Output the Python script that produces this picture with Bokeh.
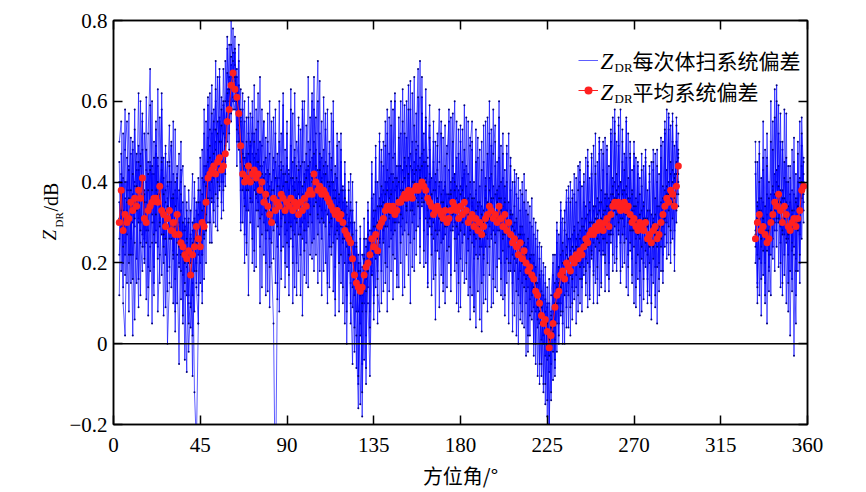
import math
from bokeh.plotting import figure
from bokeh.layouts import row
from bokeh.models import (FixedTicker, LinearAxis, Span, Label, Legend, LegendItem, Range1d)
from bokeh.embed import file_html
from bokeh.resources import INLINE

# ---------------- data ----------------
# azimuth grid (deg) of the two observed sectors
az_a = list(range(3, 294))
az_b = list(range(333, 359))

# mean systematic bias (red)
mean_a = [
    0.30, 0.38, 0.28, 0.32, 0.30, 0.31, 0.35,
    0.33, 0.36, 0.34, 0.38, 0.36, 0.41, 0.31, 0.30, 0.33, 0.34,
    0.35, 0.36, 0.36, 0.35, 0.39, 0.33, 0.32, 0.29, 0.31, 0.33,
    0.28, 0.30, 0.27, 0.32, 0.27, 0.25, 0.24, 0.22, 0.21, 0.23,
    0.17, 0.22, 0.24, 0.29, 0.26, 0.24, 0.30, 0.29, 0.35, 0.41,
    0.42, 0.43, 0.44, 0.42, 0.45, 0.46, 0.43, 0.44, 0.47, 0.55,
    0.58, 0.64, 0.67, 0.63, 0.61, 0.57, 0.49, 0.42, 0.40, 0.41,
    0.44, 0.40, 0.42, 0.43, 0.41, 0.42, 0.38, 0.40, 0.35, 0.37,
    0.34, 0.32, 0.30, 0.36, 0.33, 0.35, 0.34, 0.37, 0.36, 0.33,
    0.35, 0.34, 0.36, 0.33, 0.35, 0.34, 0.32, 0.35, 0.33, 0.36,
    0.34, 0.37, 0.38, 0.37, 0.42, 0.40, 0.38, 0.39, 0.37, 0.38,
    0.37, 0.36, 0.35, 0.34, 0.33, 0.32, 0.33, 0.31, 0.32, 0.30,
    0.28, 0.27, 0.26, 0.25, 0.21, 0.17, 0.15, 0.14, 0.13, 0.14,
    0.17, 0.19, 0.20, 0.22, 0.26, 0.24, 0.27, 0.23, 0.29, 0.30,
    0.31, 0.33, 0.34, 0.34, 0.33, 0.34, 0.32, 0.33, 0.35, 0.35,
    0.36, 0.37, 0.36, 0.38, 0.37, 0.36, 0.38, 0.39, 0.38, 0.39,
    0.40, 0.39, 0.38, 0.36, 0.35, 0.34, 0.32, 0.33, 0.34, 0.33,
    0.32, 0.31, 0.33, 0.30, 0.31, 0.33, 0.35, 0.34, 0.33, 0.31,
    0.34, 0.32, 0.35, 0.33, 0.30, 0.31, 0.32, 0.29, 0.31, 0.28,
    0.30, 0.27, 0.29, 0.31, 0.32, 0.34, 0.33, 0.31, 0.32, 0.30,
    0.34, 0.31, 0.29, 0.32, 0.28, 0.30, 0.27, 0.25, 0.26, 0.24,
    0.22, 0.25, 0.21, 0.23, 0.20, 0.18, 0.19, 0.17, 0.16, 0.13,
    0.12, 0.10, 0.07, 0.05, 0.06, 0.03, -0.01, 0.02, 0.05, 0.09,
    0.12, 0.13, 0.17, 0.18, 0.16, 0.20, 0.19, 0.18, 0.21, 0.20,
    0.22, 0.21, 0.23, 0.22, 0.24, 0.26, 0.25, 0.27, 0.28, 0.27,
    0.29, 0.28, 0.30, 0.29, 0.28, 0.30, 0.31, 0.29, 0.32, 0.34,
    0.35, 0.34, 0.35, 0.33, 0.34, 0.35, 0.33, 0.34, 0.32, 0.30,
    0.31, 0.29, 0.28, 0.30, 0.29, 0.28, 0.30, 0.26, 0.27, 0.25,
    0.28, 0.29, 0.26, 0.27, 0.30, 0.32, 0.34, 0.36, 0.35, 0.38,
    0.37, 0.34, 0.39, 0.44,
]
mean_b = [0.26, 0.30, 0.32, 0.28, 0.29, 0.27, 0.25, 0.26, 0.30, 0.32, 0.35, 0.34, 0.37,
          0.33, 0.30, 0.34, 0.32, 0.29, 0.28, 0.30, 0.31, 0.29, 0.31, 0.33, 0.38, 0.39]

# per volume-scan systematic bias (blue)
scan1_a = [
    0.45, 0.18, 0.52, 0.22, 0.40, 0.08, 0.47,
    0.30, 0.58, 0.21, 0.49, 0.12, 0.55, 0.26, 0.61, 0.19, 0.44,
    0.05, 0.50, 0.28, 0.63, 0.31, 0.17, 0.46, 0.09, 0.39, 0.54,
    0.14, 0.42, 0.03, 0.36, 0.47, 0.11, 0.30, -0.04, 0.35, 0.12,
    0.26, -0.08, 0.30, 0.15, 0.41, 0.20, 0.48, 0.16, 0.55, 0.30,
    0.62, 0.35, 0.58, 0.29, 0.66, 0.38, 0.61, 0.33, 0.70, 0.50,
    0.74, 0.55, 0.78, 0.60, 0.68, 0.52, 0.63, 0.30, 0.55, 0.22,
    0.61, 0.35, 0.47, 0.18, 0.58, 0.29, 0.50, 0.14, 0.45, 0.26,
    0.57, 0.09, 0.40, 0.21, 0.52, 0.30, 0.60, 0.16, 0.44, 0.27,
    0.55, 0.12, 0.49, 0.24, 0.62, 0.31, 0.18, 0.53, 0.07, 0.42,
    0.28, 0.66, 0.35, 0.21, 0.58, 0.44, 0.15, 0.52, 0.26, 0.61,
    0.33, 0.10, 0.47, 0.22, 0.55, 0.19, 0.41, 0.08, 0.45, 0.25,
    0.38, 0.12, 0.40, 0.05, 0.33, -0.02, 0.28, -0.10, 0.20, -0.05,
    0.31, 0.02, 0.35, 0.08, 0.42, 0.12, 0.46, 0.05, 0.50, 0.18,
    0.44, 0.15, 0.52, 0.24, 0.60, 0.11, 0.47, 0.30, 0.56, 0.20,
    0.63, 0.28, 0.51, 0.17, 0.58, 0.34, 0.66, 0.22, 0.49, 0.31,
    0.61, 0.19, 0.55, 0.27, 0.48, 0.12, 0.45, 0.23, 0.52, 0.09,
    0.40, 0.26, 0.54, 0.14, 0.43, 0.30, 0.57, 0.18, 0.46, 0.08,
    0.50, 0.25, 0.59, 0.16, 0.42, 0.06, 0.48, 0.21, 0.53, 0.13,
    0.39, 0.03, 0.45, 0.24, 0.56, 0.17, 0.49, 0.10, 0.44, 0.28,
    0.60, 0.12, 0.41, 0.20, 0.47, 0.05, 0.38, 0.15, 0.43, 0.02,
    0.36, 0.10, 0.40, 0.04, 0.33, -0.02, 0.30, 0.06, 0.27, -0.05,
    0.24, -0.10, 0.18, -0.12, 0.15, -0.18, 0.10, -0.14, 0.17, -0.06,
    0.25, 0.00, 0.30, 0.05, 0.33, 0.09, 0.36, 0.02, 0.38, 0.11,
    0.35, 0.08, 0.40, 0.14, 0.42, 0.12, 0.45, 0.19, 0.47, 0.10,
    0.44, 0.16, 0.50, 0.22, 0.43, 0.13, 0.48, 0.20, 0.52, 0.18,
    0.55, 0.24, 0.49, 0.15, 0.53, 0.27, 0.46, 0.12, 0.50, 0.21,
    0.44, 0.09, 0.42, 0.18, 0.47, 0.11, 0.45, 0.16, 0.40, 0.06,
    0.43, 0.19, 0.48, 0.13, 0.51, 0.22, 0.55, 0.25, 0.53, 0.20,
    0.57, 0.28, 0.50, 0.34,
]
scan1_b = [0.42, 0.15, 0.50, 0.20, 0.55, 0.10, 0.46, 0.18, 0.60, 0.24, 0.63, 0.30, 0.52,
           0.14, 0.48, 0.22, 0.57, 0.08, 0.44, 0.16, 0.51, 0.12, 0.40, 0.20, 0.49, 0.33]

scan2_a = [
    0.22, 0.36, 0.14, 0.48, 0.55, 0.20, 0.31,
    0.02, 0.40, 0.45, 0.16, 0.60, 0.27, 0.38, 0.11, 0.52, 0.68,
    0.30, 0.19, 0.47, 0.24, 0.56, 0.40, 0.07, 0.33, 0.18, 0.45,
    0.50, 0.21, 0.38, 0.10, 0.29, 0.43, 0.05, 0.31, 0.19, -0.02,
    0.10, 0.28, -0.12, -0.25, 0.05, 0.35, 0.22, 0.44, 0.28, 0.51,
    0.36, 0.25, 0.53, 0.60, 0.34, 0.55, 0.40, 0.68, 0.45, 0.63,
    0.48, 0.80, 0.66, 0.72, 0.50, 0.64, 0.38, 0.58, 0.27, 0.46,
    0.33, 0.57, 0.20, 0.52, 0.36, 0.62, 0.24, 0.49, 0.55, 0.12,
    0.38, 0.47, 0.20, 0.05, -0.40, 0.15, 0.41, 0.52, 0.24, 0.48,
    0.19, 0.43, 0.30, 0.57, 0.14, 0.50, 0.45, 0.22, 0.58, 0.17,
    0.54, 0.29, 0.48, 0.60, 0.26, 0.52, 0.70, 0.30, 0.46, 0.18,
    0.53, 0.40, 0.24, 0.57, 0.13, 0.44, 0.26, 0.50, 0.15, 0.39,
    0.05, 0.34, 0.20, 0.42, 0.09, 0.25, -0.06, 0.22, -0.15, 0.12,
    -0.04, 0.26, 0.10, -0.08, 0.18, 0.37, 0.14, 0.40, 0.22, 0.48,
    0.26, 0.55, 0.19, 0.47, 0.28, 0.58, 0.21, 0.44, 0.14, 0.52,
    0.27, 0.59, 0.33, 0.64, 0.25, 0.50, 0.18, 0.57, 0.29, 0.70,
    0.34, 0.52, 0.20, 0.46, 0.59, 0.31, 0.16, 0.50, 0.23, 0.45,
    0.55, 0.13, 0.37, 0.49, 0.20, 0.56, 0.28, 0.42, 0.10, 0.47,
    0.21, 0.53, 0.15, 0.44, 0.30, 0.51, 0.12, 0.40, 0.04, 0.46,
    0.22, 0.50, 0.17, 0.41, 0.08, 0.52, 0.26, 0.58, 0.14, 0.45,
    0.21, 0.49, 0.11, 0.43, 0.15, 0.52, 0.18, 0.40, 0.07, 0.37,
    0.12, 0.33, 0.05, 0.42, 0.10, 0.35, 0.02, 0.29, -0.03, 0.26,
    0.04, 0.21, -0.08, 0.17, -0.15, 0.10, -0.22, 0.08, -0.09, 0.22,
    -0.02, 0.27, 0.07, 0.31, 0.00, 0.35, 0.12, 0.40, 0.06, 0.37,
    0.14, 0.44, 0.10, 0.39, 0.17, 0.46, 0.09, 0.41, 0.21, 0.49,
    0.15, 0.45, 0.12, 0.48, 0.23, 0.51, 0.17, 0.44, 0.25, 0.56,
    0.20, 0.50, 0.27, 0.58, 0.19, 0.47, 0.14, 0.52, 0.23, 0.43,
    0.10, 0.46, 0.16, 0.41, 0.08, 0.44, 0.19, 0.38, 0.12, 0.45,
    0.15, 0.47, 0.05, 0.42, 0.18, 0.50, 0.24, 0.58, 0.22, 0.54,
    0.26, 0.49, 0.30, 0.52,
]
scan2_b = [0.20, 0.45, 0.12, 0.41, 0.17, 0.48, 0.05, 0.40, 0.22, 0.55, 0.28, 0.64, 0.19,
           0.50, 0.12, 0.58, 0.25, 0.44, 0.02, 0.38, -0.03, 0.42, 0.18, 0.55, 0.26, 0.46]

scan3_a = [
    0.35, 0.28, 0.41, 0.25, 0.38, 0.44, 0.26,
    0.37, 0.29, 0.43, 0.31, 0.47, 0.36, 0.24, 0.40, 0.28, 0.45,
    0.32, 0.42, 0.25, 0.44, 0.38, 0.27, 0.41, 0.22, 0.36, 0.28,
    0.40, 0.23, 0.34, 0.42, 0.20, 0.33, 0.17, 0.29, 0.12, 0.31,
    0.09, 0.25, 0.18, 0.33, 0.22, 0.28, 0.37, 0.26, 0.42, 0.48,
    0.38, 0.52, 0.41, 0.50, 0.44, 0.56, 0.47, 0.40, 0.55, 0.60,
    0.66, 0.58, 0.72, 0.69, 0.57, 0.61, 0.45, 0.50, 0.36, 0.47,
    0.40, 0.49, 0.35, 0.46, 0.33, 0.48, 0.37, 0.44, 0.30, 0.42,
    0.28, 0.39, 0.25, 0.43, 0.30, 0.41, 0.27, 0.45, 0.32, 0.40,
    0.28, 0.42, 0.26, 0.39, 0.31, 0.44, 0.27, 0.40, 0.30, 0.45,
    0.25, 0.43, 0.34, 0.46, 0.38, 0.48, 0.31, 0.45, 0.33, 0.42,
    0.29, 0.44, 0.27, 0.40, 0.25, 0.38, 0.29, 0.36, 0.22, 0.35,
    0.20, 0.32, 0.18, 0.30, 0.14, 0.24, 0.08, 0.20, 0.05, 0.19,
    0.10, 0.24, 0.14, 0.28, 0.20, 0.31, 0.21, 0.34, 0.25, 0.37,
    0.28, 0.40, 0.29, 0.41, 0.26, 0.42, 0.28, 0.39, 0.30, 0.44,
    0.31, 0.45, 0.30, 0.46, 0.33, 0.43, 0.32, 0.47, 0.34, 0.46,
    0.35, 0.48, 0.31, 0.44, 0.29, 0.41, 0.26, 0.40, 0.28, 0.39,
    0.25, 0.38, 0.27, 0.37, 0.24, 0.40, 0.29, 0.42, 0.26, 0.38,
    0.28, 0.41, 0.27, 0.39, 0.23, 0.37, 0.25, 0.36, 0.22, 0.35,
    0.24, 0.34, 0.21, 0.38, 0.26, 0.41, 0.27, 0.39, 0.25, 0.37,
    0.28, 0.40, 0.23, 0.36, 0.21, 0.35, 0.20, 0.32, 0.18, 0.30,
    0.16, 0.29, 0.15, 0.27, 0.13, 0.25, 0.11, 0.22, 0.09, 0.19,
    0.06, 0.16, 0.01, 0.12, -0.03, 0.09, -0.07, 0.06, -0.02, 0.15,
    0.05, 0.19, 0.10, 0.25, 0.12, 0.27, 0.15, 0.26, 0.14, 0.29,
    0.17, 0.30, 0.16, 0.31, 0.19, 0.34, 0.20, 0.35, 0.22, 0.33,
    0.24, 0.36, 0.23, 0.38, 0.22, 0.37, 0.25, 0.36, 0.27, 0.41,
    0.29, 0.42, 0.28, 0.40, 0.27, 0.43, 0.26, 0.41, 0.25, 0.38,
    0.24, 0.36, 0.22, 0.37, 0.21, 0.35, 0.23, 0.33, 0.20, 0.32,
    0.21, 0.36, 0.19, 0.34, 0.24, 0.39, 0.27, 0.43, 0.29, 0.45,
    0.31, 0.42, 0.33, 0.48,
]
scan3_b = [0.30, 0.22, 0.36, 0.24, 0.35, 0.20, 0.32, 0.19, 0.37, 0.26, 0.42, 0.28, 0.44,
           0.25, 0.38, 0.27, 0.40, 0.22, 0.35, 0.23, 0.37, 0.21, 0.36, 0.27, 0.44, 0.35]

scan4_a = [
    0.50, 0.55, 0.10, 0.02, 0.33, 0.57, 0.15,
    0.48, 0.06, 0.35, 0.62, 0.25, 0.18, 0.52, 0.43, 0.07, 0.24,
    0.60, 0.15, 0.55, 0.08, 0.22, 0.58, 0.20, 0.47, 0.00, 0.15,
    0.49, 0.10, 0.53, 0.22, -0.05, 0.40, 0.44, 0.13, -0.07, 0.38,
    0.26, 0.42, 0.08, 0.35, 0.12, 0.46, 0.13, 0.52, 0.20, 0.59,
    0.25, 0.64, 0.30, 0.70, 0.28, 0.66, 0.35, 0.59, 0.39, 0.73,
    0.52, 0.69, 0.60, 0.76, 0.44, 0.70, 0.30, 0.62, 0.20, 0.56,
    0.12, 0.50, 0.26, 0.64, 0.19, 0.55, 0.10, 0.58, 0.22, 0.51,
    0.13, 0.60, 0.34, 0.56, 0.15, 0.47, 0.08, 0.38, 0.59, 0.14,
    0.46, 0.24, 0.63, 0.10, 0.40, 0.20, 0.56, 0.12, 0.45, 0.60,
    0.15, 0.50, 0.22, 0.62, 0.18, 0.56, 0.27, 0.65, 0.12, 0.48,
    0.20, 0.58, 0.14, 0.46, 0.36, 0.07, 0.52, 0.20, 0.48, 0.10,
    0.42, 0.00, 0.31, 0.15, -0.05, 0.30, 0.02, -0.16, 0.26, -0.18,
    0.22, -0.10, 0.30, 0.00, 0.36, 0.06, 0.40, 0.12, 0.08, 0.45,
    0.13, 0.49, 0.08, 0.56, 0.18, 0.46, 0.62, 0.14, 0.40, 0.60,
    0.12, 0.52, 0.22, 0.58, 0.10, 0.62, 0.26, 0.50, 0.68, 0.20,
    0.57, 0.28, 0.63, 0.15, 0.54, 0.22, 0.50, 0.06, 0.43, 0.58,
    0.17, 0.51, 0.10, 0.47, 0.55, 0.13, 0.44, 0.60, 0.20, 0.53,
    0.09, 0.45, 0.27, 0.56, 0.12, 0.49, 0.55, 0.08, 0.37, 0.51,
    0.06, 0.43, 0.10, 0.55, 0.20, 0.60, 0.09, 0.47, 0.54, 0.13,
    0.46, 0.20, 0.52, 0.07, 0.40, 0.18, 0.46, 0.03, 0.34, 0.42,
    0.00, 0.38, 0.08, 0.35, -0.03, 0.32, 0.07, 0.36, 0.00, 0.30,
    -0.08, 0.25, -0.05, 0.20, -0.10, 0.14, -0.20, 0.12, 0.20, -0.08,
    0.28, 0.05, 0.33, 0.00, 0.28, 0.38, 0.04, 0.35, 0.10, 0.42,
    0.05, 0.38, 0.45, 0.08, 0.35, 0.15, 0.48, 0.12, 0.42, 0.18,
    0.52, 0.10, 0.47, 0.14, 0.50, 0.20, 0.42, 0.13, 0.50, 0.27,
    0.58, 0.18, 0.56, 0.25, 0.45, 0.20, 0.55, 0.22, 0.47, 0.15,
    0.50, 0.20, 0.44, 0.07, 0.39, 0.20, 0.48, 0.10, 0.44, 0.17,
    0.48, 0.09, 0.40, 0.20, 0.46, 0.15, 0.52, 0.30, 0.56, 0.25,
    0.50, 0.18, 0.56, 0.40,
]
scan4_b = [0.50, 0.10, 0.47, 0.07, 0.43, 0.15, 0.52, 0.30, 0.12, 0.48, 0.18, 0.60, 0.30,
           0.57, 0.15, 0.45, 0.10, 0.40, 0.18, 0.48, 0.22, 0.05, 0.50, 0.15, 0.56, 0.40]

scan5_a = [
    0.26, 0.42, 0.33, 0.17, 0.46, 0.38, 0.22,
    0.50, 0.25, 0.15, 0.43, 0.30, 0.48, 0.20, 0.35, 0.45, 0.18,
    0.42, 0.30, 0.49, 0.21, 0.37, 0.46, 0.26, 0.38, 0.45, 0.19,
    0.33, 0.37, 0.16, 0.44, 0.30, 0.18, 0.35, 0.28, 0.30, 0.10,
    0.04, 0.15, 0.36, 0.20, 0.32, 0.15, 0.41, 0.34, 0.28, 0.45,
    0.53, 0.45, 0.35, 0.48, 0.55, 0.43, 0.50, 0.52, 0.60, 0.67,
    0.62, 0.74, 0.70, 0.65, 0.62, 0.54, 0.56, 0.38, 0.44, 0.33,
    0.52, 0.43, 0.56, 0.38, 0.45, 0.35, 0.44, 0.32, 0.41, 0.46,
    0.40, 0.26, 0.38, 0.46, 0.36, 0.24, 0.39, 0.29, 0.42, 0.36,
    0.25, 0.38, 0.41, 0.28, 0.46, 0.36, 0.40, 0.29, 0.37, 0.31,
    0.43, 0.35, 0.42, 0.30, 0.50, 0.36, 0.43, 0.34, 0.41, 0.44,
    0.38, 0.32, 0.40, 0.29, 0.36, 0.42, 0.34, 0.27, 0.38, 0.30,
    0.33, 0.24, 0.29, 0.35, 0.25, 0.18, 0.22, 0.08, 0.12, 0.08,
    0.14, 0.16, 0.25, 0.20, 0.28, 0.22, 0.33, 0.26, 0.36, 0.29,
    0.38, 0.34, 0.40, 0.36, 0.42, 0.30, 0.38, 0.41, 0.33, 0.38,
    0.43, 0.35, 0.44, 0.39, 0.47, 0.40, 0.45, 0.36, 0.44, 0.41,
    0.47, 0.37, 0.45, 0.33, 0.40, 0.36, 0.30, 0.38, 0.35, 0.28,
    0.37, 0.33, 0.40, 0.29, 0.36, 0.38, 0.33, 0.40, 0.36, 0.27,
    0.39, 0.35, 0.42, 0.30, 0.36, 0.27, 0.35, 0.31, 0.26, 0.34,
    0.29, 0.24, 0.33, 0.36, 0.30, 0.38, 0.35, 0.28, 0.37, 0.34,
    0.39, 0.29, 0.34, 0.27, 0.33, 0.26, 0.31, 0.22, 0.30, 0.20,
    0.26, 0.21, 0.27, 0.17, 0.24, 0.14, 0.22, 0.13, 0.20, 0.08,
    0.15, 0.05, 0.12, 0.02, 0.08, -0.04, 0.03, -0.05, 0.09, 0.04,
    0.16, 0.10, 0.22, 0.15, 0.20, 0.24, 0.18, 0.22, 0.27, 0.20,
    0.26, 0.24, 0.28, 0.20, 0.29, 0.31, 0.27, 0.33, 0.30, 0.25,
    0.34, 0.32, 0.35, 0.27, 0.33, 0.36, 0.29, 0.34, 0.37, 0.31,
    0.40, 0.36, 0.39, 0.31, 0.38, 0.34, 0.37, 0.30, 0.36, 0.33,
    0.28, 0.34, 0.31, 0.26, 0.33, 0.30, 0.25, 0.31, 0.27, 0.29,
    0.24, 0.32, 0.28, 0.30, 0.35, 0.29, 0.38, 0.34, 0.40, 0.36,
    0.43, 0.39, 0.45, 0.42,
]
scan5_b = [0.24, 0.35, 0.27, 0.33, 0.23, 0.34, 0.28, 0.36, 0.31, 0.38, 0.33, 0.40, 0.35,
           0.29, 0.36, 0.31, 0.26, 0.34, 0.30, 0.25, 0.33, 0.36, 0.28, 0.38, 0.33, 0.42]

scan6_a = [
    0.31, 0.40, 0.20, 0.36, 0.27, 0.43, 0.33,
    0.22, 0.39, 0.47, 0.30, 0.41, 0.24, 0.37, 0.28, 0.42, 0.33,
    0.44, 0.27, 0.38, 0.46, 0.29, 0.43, 0.24, 0.35, 0.40, 0.26,
    0.36, 0.22, 0.40, 0.31, 0.19, 0.37, 0.28, 0.15, 0.33, 0.20,
    0.27, 0.12, 0.31, 0.25, 0.38, 0.30, 0.22, 0.40, 0.44, 0.36,
    0.49, 0.40, 0.55, 0.37, 0.52, 0.39, 0.58, 0.45, 0.51, 0.62,
    0.55, 0.67, 0.61, 0.58, 0.66, 0.48, 0.55, 0.46, 0.34, 0.50,
    0.38, 0.45, 0.52, 0.40, 0.47, 0.33, 0.50, 0.42, 0.36, 0.28,
    0.43, 0.37, 0.33, 0.28, 0.45, 0.39, 0.44, 0.31, 0.39, 0.42,
    0.44, 0.30, 0.35, 0.45, 0.27, 0.41, 0.37, 0.44, 0.26, 0.40,
    0.37, 0.30, 0.45, 0.41, 0.34, 0.44, 0.32, 0.47, 0.40, 0.30,
    0.45, 0.40, 0.30, 0.43, 0.38, 0.27, 0.41, 0.35, 0.29, 0.38,
    0.26, 0.35, 0.30, 0.20, 0.30, 0.12, 0.25, 0.18, 0.02, 0.22,
    0.20, 0.08, 0.27, 0.25, 0.17, 0.33, 0.29, 0.18, 0.34, 0.39,
    0.25, 0.37, 0.43, 0.31, 0.38, 0.27, 0.41, 0.36, 0.44, 0.29,
    0.40, 0.46, 0.33, 0.41, 0.44, 0.30, 0.42, 0.48, 0.37, 0.43,
    0.36, 0.45, 0.41, 0.30, 0.42, 0.29, 0.38, 0.42, 0.27, 0.40,
    0.35, 0.26, 0.39, 0.33, 0.37, 0.28, 0.41, 0.30, 0.39, 0.35,
    0.28, 0.38, 0.43, 0.35, 0.26, 0.40, 0.34, 0.24, 0.38, 0.30,
    0.35, 0.31, 0.22, 0.39, 0.34, 0.29, 0.42, 0.36, 0.27, 0.38,
    0.31, 0.36, 0.26, 0.39, 0.32, 0.24, 0.33, 0.29, 0.21, 0.31,
    0.27, 0.18, 0.29, 0.24, 0.16, 0.26, 0.21, 0.12, 0.22, 0.16,
    0.09, 0.17, 0.13, 0.00, 0.11, 0.06, -0.03, 0.07, 0.12, 0.01,
    0.14, 0.19, 0.08, 0.23, 0.20, 0.13, 0.26, 0.23, 0.16, 0.28,
    0.21, 0.27, 0.19, 0.29, 0.25, 0.21, 0.32, 0.28, 0.23, 0.34,
    0.27, 0.31, 0.25, 0.35, 0.32, 0.26, 0.37, 0.33, 0.28, 0.39,
    0.33, 0.38, 0.30, 0.40, 0.37, 0.29, 0.39, 0.35, 0.28, 0.37,
    0.33, 0.26, 0.35, 0.30, 0.24, 0.34, 0.31, 0.22, 0.33, 0.28,
    0.31, 0.25, 0.34, 0.29, 0.26, 0.36, 0.30, 0.39, 0.33, 0.42,
    0.35, 0.41, 0.37, 0.47,
]
scan6_b = [0.28, 0.34, 0.21, 0.36, 0.30, 0.25, 0.37, 0.22, 0.33, 0.39, 0.30, 0.43, 0.31,
           0.38, 0.27, 0.41, 0.35, 0.26, 0.37, 0.32, 0.24, 0.35, 0.30, 0.41, 0.36, 0.45]

scan7_a = [
    0.12, 0.47, 0.29, 0.58, 0.15, 0.36, 0.51,
    0.16, 0.53, 0.33, 0.09, 0.44, 0.57, 0.21, 0.48, 0.14, 0.59,
    0.25, 0.12, 0.53, 0.37, 0.15, 0.62, 0.27, 0.49, 0.13, 0.44,
    0.26, 0.55, 0.08, 0.41, 0.24, 0.50, 0.07, 0.39, 0.25, 0.05,
    0.33, 0.02, 0.40, 0.14, 0.05, 0.38, 0.10, 0.58, 0.32, 0.61,
    0.30, 0.57, 0.33, 0.63, 0.36, 0.68, 0.31, 0.60, 0.42, 0.76,
    0.60, 0.71, 0.58, 0.66, 0.53, 0.74, 0.28, 0.47, 0.60, 0.25,
    0.56, 0.30, 0.60, 0.23, 0.53, 0.38, 0.66, 0.27, 0.55, 0.20,
    0.50, 0.19, 0.55, 0.30, 0.58, 0.11, 0.50, 0.23, 0.62, 0.20,
    0.52, 0.17, 0.58, 0.20, 0.48, 0.12, 0.54, 0.27, 0.60, 0.23,
    0.47, 0.14, 0.56, 0.25, 0.66, 0.22, 0.60, 0.18, 0.55, 0.30,
    0.57, 0.15, 0.50, 0.24, 0.60, 0.11, 0.49, 0.20, 0.52, 0.14,
    0.45, 0.08, 0.38, 0.10, 0.40, 0.04, 0.35, -0.08, 0.29, -0.12,
    0.26, -0.06, 0.33, 0.04, 0.45, 0.10, 0.49, 0.16, 0.52, 0.10,
    0.50, 0.20, 0.58, 0.13, 0.54, 0.22, 0.60, 0.17, 0.51, 0.25,
    0.55, 0.14, 0.60, 0.27, 0.65, 0.19, 0.54, 0.28, 0.61, 0.24,
    0.66, 0.23, 0.56, 0.14, 0.51, 0.27, 0.55, 0.17, 0.49, 0.21,
    0.52, 0.15, 0.44, 0.23, 0.58, 0.17, 0.50, 0.26, 0.55, 0.15,
    0.54, 0.18, 0.48, 0.20, 0.55, 0.14, 0.50, 0.09, 0.45, 0.21,
    0.48, 0.15, 0.54, 0.11, 0.47, 0.24, 0.53, 0.16, 0.50, 0.19,
    0.56, 0.16, 0.47, 0.12, 0.49, 0.20, 0.44, 0.10, 0.40, 0.13,
    0.41, 0.06, 0.37, 0.14, 0.38, 0.02, 0.34, 0.08, 0.31, 0.00,
    0.28, -0.05, 0.24, -0.10, 0.19, -0.14, 0.16, -0.12, 0.22, -0.04,
    0.30, 0.02, 0.35, 0.08, 0.30, 0.04, 0.39, 0.09, 0.36, 0.13,
    0.41, 0.12, 0.43, 0.16, 0.40, 0.18, 0.44, 0.11, 0.46, 0.17,
    0.42, 0.19, 0.51, 0.15, 0.47, 0.22, 0.49, 0.16, 0.53, 0.22,
    0.52, 0.21, 0.54, 0.18, 0.50, 0.25, 0.56, 0.19, 0.46, 0.17,
    0.47, 0.14, 0.45, 0.12, 0.43, 0.16, 0.46, 0.13, 0.42, 0.10,
    0.45, 0.12, 0.44, 0.16, 0.49, 0.18, 0.53, 0.21, 0.57, 0.28,
    0.55, 0.22, 0.54, 0.37,
]
scan7_b = [0.45, 0.14, 0.40, 0.16, 0.46, 0.12, 0.44, 0.13, 0.50, 0.21, 0.56, 0.24, 0.59,
           0.20, 0.50, 0.17, 0.46, 0.15, 0.41, 0.13, 0.45, 0.18, 0.47, 0.22, 0.52, 0.30]

scan8_a = [
    0.40, 0.33, 0.24, 0.40, 0.35, 0.22, 0.38,
    0.42, 0.31, 0.39, 0.45, 0.28, 0.40, 0.35, 0.25, 0.38, 0.43,
    0.38, 0.46, 0.32, 0.40, 0.30, 0.45, 0.37, 0.26, 0.34, 0.40,
    0.30, 0.36, 0.29, 0.25, 0.38, 0.22, 0.30, 0.20, 0.26, 0.30,
    0.20, 0.30, 0.26, 0.18, 0.35, 0.24, 0.33, 0.27, 0.39, 0.42,
    0.46, 0.36, 0.47, 0.53, 0.40, 0.50, 0.54, 0.38, 0.49, 0.58,
    0.63, 0.57, 0.66, 0.73, 0.60, 0.50, 0.58, 0.41, 0.46, 0.38,
    0.47, 0.36, 0.43, 0.50, 0.37, 0.45, 0.31, 0.42, 0.38, 0.33,
    0.36, 0.42, 0.30, 0.38, 0.41, 0.29, 0.37, 0.43, 0.33, 0.30,
    0.40, 0.36, 0.29, 0.41, 0.38, 0.30, 0.43, 0.33, 0.39, 0.28,
    0.41, 0.44, 0.32, 0.40, 0.47, 0.35, 0.40, 0.43, 0.31, 0.36,
    0.42, 0.35, 0.39, 0.31, 0.40, 0.36, 0.28, 0.37, 0.33, 0.26,
    0.36, 0.29, 0.22, 0.33, 0.27, 0.15, 0.24, 0.14, 0.18, 0.10,
    0.21, 0.13, 0.18, 0.26, 0.17, 0.29, 0.23, 0.30, 0.26, 0.34,
    0.35, 0.29, 0.38, 0.32, 0.37, 0.40, 0.30, 0.36, 0.40, 0.32,
    0.38, 0.41, 0.34, 0.42, 0.38, 0.33, 0.40, 0.43, 0.35, 0.41,
    0.44, 0.35, 0.40, 0.38, 0.31, 0.37, 0.34, 0.28, 0.36, 0.31,
    0.30, 0.35, 0.29, 0.34, 0.31, 0.37, 0.32, 0.38, 0.29, 0.34,
    0.37, 0.30, 0.36, 0.33, 0.32, 0.28, 0.36, 0.27, 0.33, 0.31,
    0.26, 0.32, 0.30, 0.27, 0.35, 0.31, 0.36, 0.33, 0.30, 0.35,
    0.36, 0.33, 0.27, 0.35, 0.30, 0.28, 0.32, 0.25, 0.28, 0.26,
    0.24, 0.27, 0.20, 0.25, 0.22, 0.17, 0.21, 0.19, 0.14, 0.15,
    0.13, 0.08, 0.09, 0.06, 0.03, 0.05, 0.01, 0.04, 0.03, 0.10,
    0.10, 0.15, 0.14, 0.20, 0.17, 0.22, 0.21, 0.17, 0.24, 0.23,
    0.24, 0.20, 0.26, 0.24, 0.22, 0.28, 0.24, 0.30, 0.27, 0.30,
    0.31, 0.26, 0.33, 0.31, 0.26, 0.33, 0.34, 0.27, 0.35, 0.37,
    0.36, 0.32, 0.37, 0.35, 0.31, 0.38, 0.32, 0.36, 0.31, 0.28,
    0.34, 0.30, 0.27, 0.32, 0.28, 0.31, 0.28, 0.29, 0.24, 0.27,
    0.30, 0.27, 0.24, 0.29, 0.32, 0.34, 0.31, 0.37, 0.37, 0.35,
    0.40, 0.36, 0.42, 0.46,
]
scan8_b = [0.27, 0.31, 0.33, 0.26, 0.31, 0.29, 0.23, 0.28, 0.32, 0.30, 0.37, 0.31, 0.39,
           0.35, 0.28, 0.36, 0.34, 0.27, 0.30, 0.33, 0.29, 0.31, 0.34, 0.30, 0.40, 0.37]

x_ticks = [0, 45, 90, 135, 180, 225, 270, 315, 360]
y_ticks = [-0.2, 0, 0.2, 0.4, 0.6, 0.8]
y_tick_labels = ["\u22120.2", "0", "0.2", "0.4", "0.6", "0.8"]

# ---------------- helpers ----------------
def joined(va, vb):
    na = min(len(az_a), len(va))
    nb = min(len(az_b), len(vb))
    xs = az_a[:na] + [float("nan")] + az_b[:nb]
    ys = list(va[:na]) + [float("nan")] + list(vb[:nb])
    return xs, ys

SERIF = "Liberation Serif"
CJK = "Noto Sans CJK SC"

H = 492
QW = 66
p = figure(width=794, height=H, output_backend="svg", toolbar_location=None,
           x_range=Range1d(0, 360), y_range=Range1d(-0.2, 0.8),
           min_border_left=113 - QW, min_border_right=53, min_border_top=20,
           min_border_bottom=68)
p.background_fill_color = "white"
p.border_fill_color = "white"
p.grid.visible = False
p.outline_line_color = "black"
p.outline_line_width = 1.5

for ax in (p.xaxis[0], p.yaxis[0]):
    ax.major_tick_in = 9
    ax.major_tick_out = 0
    ax.minor_tick_line_color = None
    ax.axis_line_width = 1.5
    ax.major_tick_line_width = 1.5
    ax.major_label_text_font = SERIF
    ax.major_label_text_font_size = "21px"
    ax.major_label_text_color = "black"

p.xaxis[0].ticker = FixedTicker(ticks=x_ticks)
p.xaxis[0].major_label_standoff = 13
p.xaxis[0].axis_label = "方位角/°"
p.xaxis[0].axis_label_text_font = CJK
p.xaxis[0].axis_label_text_font_size = "20px"
p.xaxis[0].axis_label_text_font_style = "normal"
p.xaxis[0].axis_label_text_color = "black"
p.xaxis[0].axis_label_standoff = 6
p.yaxis[0].ticker = FixedTicker(ticks=y_ticks)
p.yaxis[0].major_label_standoff = 6
p.yaxis[0].major_label_overrides = {t: s for t, s in zip(y_ticks, y_tick_labels)}
p.yaxis[0].axis_label = None

top_ax = LinearAxis(ticker=FixedTicker(ticks=x_ticks))
right_ax = LinearAxis(ticker=FixedTicker(ticks=y_ticks))
for ax in (top_ax, right_ax):
    ax.major_tick_in = 9
    ax.major_tick_out = 0
    ax.minor_tick_line_color = None
    ax.axis_line_width = 1.5
    ax.major_tick_line_width = 1.5
    ax.major_label_text_font_size = "0px"
    ax.major_label_text_color = None
    ax.major_label_standoff = 0
p.add_layout(top_ax, "above")
p.add_layout(right_ax, "right")

# zero line
p.add_layout(Span(location=0, dimension="width", line_color="black", line_width=1.5))

# per-scan series
blue_line_r = None
scans = [(scan1_a, scan1_b), (scan2_a, scan2_b), (scan3_a, scan3_b), (scan4_a, scan4_b),
         (scan5_a, scan5_b), (scan6_a, scan6_b), (scan7_a, scan7_b), (scan8_a, scan8_b)]
for va, vb in scans:
    xs, ys = joined(va, vb)
    lr = p.line(xs, ys, line_color="#0000ff", line_width=0.8, line_alpha=0.8)
    p.scatter(xs, ys, size=2.0, marker="circle", fill_color="#00007a", line_color=None)
    if blue_line_r is None:
        blue_line_r = lr

# mean series
mx, my = joined(mean_a, mean_b)
red_line_r = p.line(mx, my, line_color="#ff2020", line_width=1.0)
red_dot_r = p.scatter(mx, my, size=7, marker="circle", fill_color="#ff2020",
                      line_color=None)

# legend samples (glyphs only); legend text drawn as labels
legend = Legend(items=[LegendItem(label=" ", renderers=[blue_line_r]),
                       LegendItem(label=" ", renderers=[red_line_r, red_dot_r])],
                location=(465, 324), glyph_width=20, glyph_height=20, label_width=0,
                label_height=20, label_standoff=0, padding=0, margin=0, spacing=10,
                border_line_color=None, background_fill_alpha=0,
                label_text_font_size="1px", label_text_color=None)
p.add_layout(legend, "center")

def lab(fig, text, x, y, size, font=SERIF, style="normal", angle=0.0, align="left"):
    fig.add_layout(Label(x=x, y=y, x_units="screen", y_units="screen", text=text,
                         text_font=font, text_font_size=size, text_font_style=style,
                         text_color="black", angle=angle, text_align=align,
                         text_baseline="middle"))

# legend texts (frame bottom is at page y = 424)
lab(p, "Z", 487, 363, "23px", style="italic")
lab(p, "DR", 501, 357, "13px")
lab(p, "每次体扫系统偏差", 519, 365, "21px", font=CJK)
lab(p, "Z", 487, 332, "23px", style="italic")
lab(p, "DR", 501, 326, "13px")
lab(p, "平均系统偏差", 519, 334, "21px", font=CJK)

# narrow panel on the left holding the y-axis title (its frame is aligned with p's)
q = figure(width=QW, height=H, output_backend="svg", toolbar_location=None,
           x_range=Range1d(0, 1), y_range=Range1d(0, 1), x_axis_type=None,
           y_axis_type=None, min_border_left=0, min_border_right=0, min_border_top=20,
           min_border_bottom=68)
q.outline_line_color = None
q.grid.visible = False
q.background_fill_color = "white"
q.border_fill_color = "white"
lab(q, "Z", 49, 424 - 240, "19px", style="italic", angle=math.pi / 2)
lab(q, "DR", 58, 424 - 227, "11px", angle=math.pi / 2)
lab(q, "/dB", 50, 424 - 211, "20px", angle=math.pi / 2)

layout = row(q, p)
open("out.html", "w").write(file_html(layout, INLINE))
